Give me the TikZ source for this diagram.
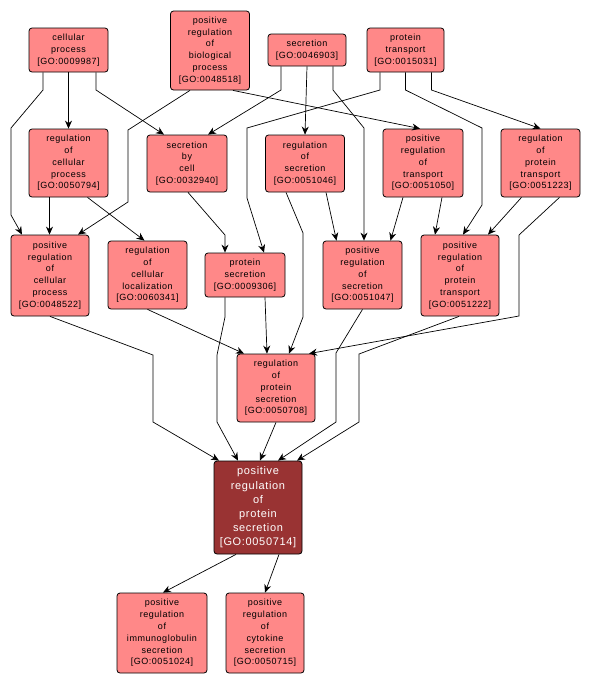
\documentclass[tikz,border=0pt]{standalone}
\usepackage{fontspec}
\usepackage{xcolor}
\usepackage{tikz}
\usetikzlibrary{arrows.meta, positioning, calc}
\newfontfamily\gofont[LetterSpace=6]{Liberation Sans}
\definecolor{golight}{RGB}{255,136,136}
\definecolor{godark}{RGB}{153,51,51}
\tikzset{
  term/.style  = {rectangle, draw, rounded corners=3pt, fill=golight,
                  line width=0.8pt, inner sep=0pt, minimum width=79pt,
                  minimum height=#1, align=center,
                  font=\gofont\fontsize{9}{11.8}\selectfont},
  qterm/.style = {term=#1, fill=godark, text=white, minimum width=88pt,
                  font=\gofont\fontsize{11}{14.2}\selectfont},
  arrow/.style = {-{Stealth[length=8pt, width=7pt]}, line width=0.7pt},
}

\begin{document}
\begin{tikzpicture}[x=1pt, y=-1pt]
  \useasboundingbox (0,0) rectangle (590,686);
  % top row
  \node[term=44] (cp)  at (68.5,50)  {cellular\\process\\{[GO:0009987]}};
  \node[term=79] (pbp) at (210,50.5) {positive\\regulation\\of\\biological\\process\\{[GO:0048518]}};
  \node[term=32, minimum width=78pt] (sec) at (307,50) {secretion\\{[GO:0046903]}};
  \node[term=44, minimum width=77pt] (pt)  at (405.5,50) {protein\\transport\\{[GO:0015031]}};
  % second row
  \node[term=68] (rcp)  at (68.5,163)  {regulation\\of\\cellular\\process\\{[GO:0050794]}};
  \node[term=57, minimum width=80pt] (sbc) at (187,163.5) {secretion\\by\\cell\\{[GO:0032940]}};
  \node[term=57] (rsec) at (305,163.5) {regulation\\of\\secretion\\{[GO:0051046]}};
  \node[term=68, minimum width=80pt] (prt) at (423,163) {positive\\regulation\\of\\transport\\{[GO:0051050]}};
  \node[term=68] (rpt)  at (540.5,163) {regulation\\of\\protein\\transport\\{[GO:0051223]}};
  % third row
  \node[term=81, minimum width=78pt] (pcp) at (50,275.5) {positive\\regulation\\of\\cellular\\process\\{[GO:0048522]}};
  \node[term=68] (rcl)  at (147.5,275) {regulation\\of\\cellular\\localization\\{[GO:0060341]}};
  \node[term=44, minimum width=80pt] (psec) at (245,275) {protein\\secretion\\{[GO:0009306]}};
  \node[term=68] (prs)  at (362.5,275) {positive\\regulation\\of\\secretion\\{[GO:0051047]}};
  \node[term=81, minimum width=78pt] (pprt) at (460,275.5) {positive\\regulation\\of\\protein\\transport\\{[GO:0051222]}};
  % lower part
  \node[term=68, minimum width=78pt] (rps) at (276,388) {regulation\\of\\protein\\secretion\\{[GO:0050708]}};
  \node[qterm=93] (pps) at (258,507.5) {positive\\regulation\\of\\protein\\secretion\\{[GO:0050714]}};
  \node[term=80, minimum width=90pt] (pis) at (162,633) {positive\\regulation\\of\\immunoglobulin\\secretion\\{[GO:0051024]}};
  \node[term=80, minimum width=78pt] (pcs) at (265,633) {positive\\regulation\\of\\cytokine\\secretion\\{[GO:0050715]}};

  % edges from the top row
  \draw[arrow] (cp.south) -- (rcp.north);
  \draw[arrow] ([xshift=-25.5]cp.south) -- (43,90) -- (11,128) -- (11,215) -- ([xshift=-28]pcp.north);
  \draw[arrow] ([xshift=27.5]cp.south) -- (96,90) -- ([xshift=-23]sbc.north);
  \draw[arrow] ([xshift=-20]pbp.south) -- (128,130) -- (128,202) -- ([xshift=28]pcp.north);
  \draw[arrow] ([xshift=23]pbp.south) -- ([xshift=-3]prt.north);
  \draw[arrow] ([xshift=-26]sec.south) -- (281,90) -- ([xshift=21]sbc.north);
  \draw[arrow] (sec.south) -- (rsec.north);
  \draw[arrow] ([xshift=26]sec.south) -- (333,90) -- (364,128) -- ([xshift=1.5]prs.north);
  \draw[arrow] ([xshift=-25.5]pt.south) -- (380,90) -- (247,128) -- (247,198) -- ([xshift=19]psec.north);
  \draw[arrow] (pt.south) -- (405.5,90) -- (482,128) -- (482,205) -- ([xshift=3]pprt.north);
  \draw[arrow] ([xshift=26]pt.south) -- (431.5,90) -- (rpt.north);
  % edges from the second row
  \draw[arrow] ([xshift=-19]rcp.south) -- ([xshift=-0.5]pcp.north);
  \draw[arrow] ([xshift=19]rcp.south) -- ([xshift=-3]rcl.north);
  \draw[arrow] ([xshift=1]sbc.south) -- (225,235) -- ([xshift=-20]psec.north);
  \draw[arrow] ([xshift=21]rsec.south) -- ([xshift=-26]prs.north);
  \draw[arrow] ([xshift=-19]rsec.south) -- (303,233) -- (303,317) -- ([xshift=13]rps.north);
  \draw[arrow] ([xshift=-20]prt.south) -- ([xshift=28]prs.north);
  \draw[arrow] ([xshift=19]prt.south) -- ([xshift=-25]pprt.north);
  \draw[arrow] ([xshift=-19]rpt.south) -- ([xshift=28]pprt.north);
  \draw[arrow] ([xshift=19]rpt.south) -- (519,235) -- (519,316) -- ([xshift=33]rps.north);
  % edges from the third row
  \draw[arrow] (pcp.south) -- (153,355) -- (153,422) -- ([xshift=-39]pps.north);
  \draw[arrow] (rcl.south) -- ([xshift=-32]rps.north);
  \draw[arrow] ([xshift=-20]psec.south) -- (225,317) -- (217,355) -- (217,422) -- ([xshift=-20]pps.north);
  \draw[arrow] ([xshift=20]psec.south) -- ([xshift=-9]rps.north);
  \draw[arrow] (prs.south) -- (336,353) -- (336,422) -- ([xshift=20]pps.north);
  \draw[arrow] ([xshift=-1]pprt.south) -- (359,354) -- (359,422) -- ([xshift=39]pps.north);
  % lower edges
  \draw[arrow] (rps.south) -- ([xshift=2]pps.north);
  \draw[arrow] ([xshift=-22]pps.south) -- ([xshift=1]pis.north);
  \draw[arrow] ([xshift=21]pps.south) -- (pcs.north);
\end{tikzpicture}
\end{document}
